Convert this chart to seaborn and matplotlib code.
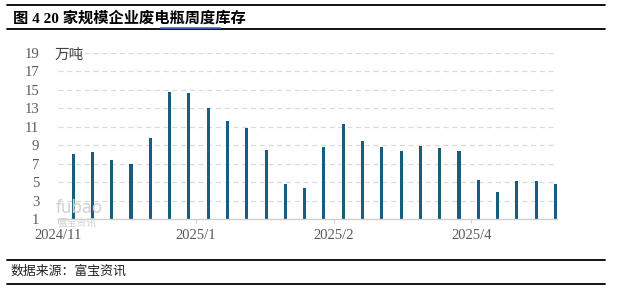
import matplotlib
matplotlib.use("Agg")
import matplotlib.pyplot as plt
import seaborn as sns
import pandas as pd
from matplotlib.lines import Line2D

weeks = ["2024-11-21", "2024-11-28", "2024-12-05", "2024-12-12", "2024-12-19", "2024-12-26",
         "2025-01-02", "2025-01-09", "2025-01-16", "2025-01-23", "2025-01-30", "2025-02-06",
         "2025-02-13", "2025-02-20", "2025-02-27", "2025-03-06", "2025-03-13", "2025-03-20",
         "2025-03-27", "2025-04-03", "2025-04-10", "2025-04-17", "2025-04-24", "2025-05-01",
         "2025-05-08", "2025-05-15"]
inventory = [8.05, 8.27, 7.40, 6.97, 9.78, 14.77, 14.67, 13.04, 11.63, 10.87, 8.48, 4.80,
             4.36, 8.81, 11.30, 9.46, 8.81, 8.37, 8.92, 8.70, 8.37, 5.23, 3.93, 5.12,
             5.12, 4.80]
x_tick_labels = ["2024/11", "2025/1", "2025/2", "2025/4"]
y_ticks = [1, 3, 5, 7, 9, 11, 13, 15, 17, 19]
title = "图 4 20 家规模企业废电瓶周度库存"
unit = "万吨"
source = "数据来源：富宝资讯"

sns.set_style("white")
plt.rcParams['font.family'] = ['Liberation Serif', 'Noto Sans CJK SC', 'DejaVu Sans']

df = pd.DataFrame({"week": weeks, "inventory": inventory})

W, H = 618, 298
fig = plt.figure(figsize=(W / 100, H / 100), dpi=100)
ax = fig.add_axes([58 / W, 1 - 219 / H, 499 / W, 166 / H])

sns.barplot(data=df, x="week", y="inventory", order=weeks, color="#175d7f",
            saturation=1, width=0.16, errorbar=None, ax=ax,
            linewidth=0, antialiased=False)

ax.set_ylim(1, 19)
ax.set_yticks(y_ticks)
ax.set_yticklabels([str(v) for v in y_ticks])
ax.set_xlim(-0.786, 25.08)
ax.set_xticks([-0.786, 6.357, 13.5, 20.643])
ax.set_xticklabels(x_tick_labels)
ax.set_xlabel("")
ax.set_ylabel("")

for v in y_ticks[1:]:
    ax.axhline(v, color="#d9d9d9", lw=0.9, ls=(0, (4, 3)), zorder=0)

for s in ["top", "right", "left"]:
    ax.spines[s].set_visible(False)
ax.spines["bottom"].set_color("#d0d0d0")
ax.spines["bottom"].set_linewidth(1.0)

ax.tick_params(axis="y", length=0, pad=13.5, labelsize=10.5, labelcolor="#595959")
ax.tick_params(axis="x", length=3, width=0.8, color="#d0d0d0", pad=4,
               labelsize=10.5, labelcolor="#595959", bottom=True)

# unit label
fig.text(55 / W, 1 - 55 / H, unit, fontsize=10.5, color="#404040",
         family=['Noto Sans CJK SC'], ha="left", va="center")

# watermark
fig.text(56 / W, 1 - 208 / H, "fubao", fontsize=12, color="#d2d2d2",
         family=['DejaVu Sans'], ha="left", va="center")
fig.text(57 / W, 1 - 223 / H, "富宝资讯", fontsize=7, color="#d2d2d2",
         family=['Noto Sans CJK SC'], ha="left", va="center")

# title and rules
fig.text(13 / W, 1 - 18 / H, title, fontsize=11, fontweight="bold", color="#000000",
         ha="left", va="center")
for yy, lw in [(5, 1.3), (29, 1.3), (259.5, 1.3), (283.5, 1.3)]:
    fig.add_artist(Line2D([7 / W, 605 / W], [1 - yy / H, 1 - yy / H],
                          color="black", lw=lw, transform=fig.transFigure))
for yy in [27.0, 28.3]:
    fig.add_artist(Line2D([160 / W, 220 / W], [1 - yy / H, 1 - yy / H],
                          color="#4468c8", lw=0.6, transform=fig.transFigure))

fig.text(10 / W, 1 - 271 / H, source, fontsize=9.3, color="#222222",
         family=['Noto Sans CJK SC'], ha="left", va="center")

fig.savefig("out.png", dpi=100)
